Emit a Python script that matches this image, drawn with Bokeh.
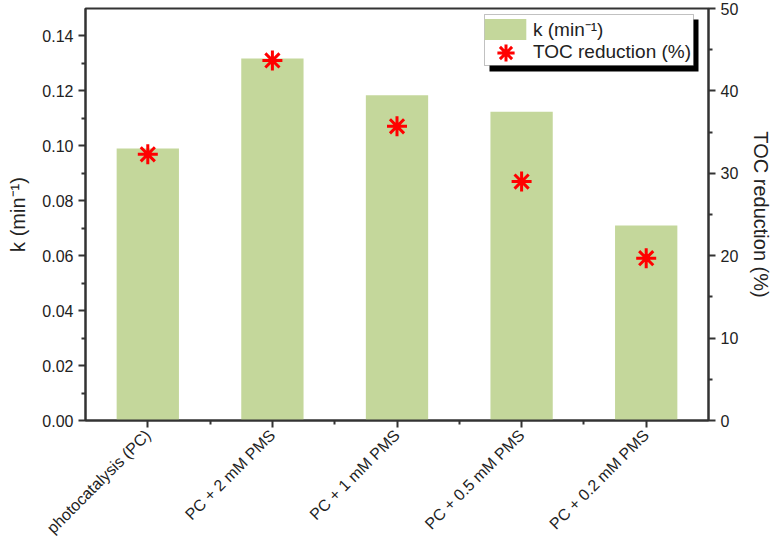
import math
from bokeh.plotting import figure
from bokeh.models import (Range1d, LinearAxis, FixedTicker, Legend, LegendItem,
                          BoxAnnotation, ColumnDataSource, NumeralTickFormatter)
from bokeh.embed import file_html
from bokeh.resources import INLINE

# ---- data ----
categories = ["photocatalysis (PC)", "PC + 2 mM PMS", "PC + 1 mM PMS",
              "PC + 0.5 mM PMS", "PC + 0.2 mM PMS"]
k_values = [0.0990, 0.1318, 0.1184, 0.1124, 0.0710]
toc_values = [32.3, 43.7, 35.7, 29.0, 19.7]
left_ticks = [0.00, 0.02, 0.04, 0.06, 0.08, 0.10, 0.12, 0.14]
left_minor = [0.01, 0.03, 0.05, 0.07, 0.09, 0.11, 0.13]
right_ticks = [0, 10, 20, 30, 40, 50]
right_minor = [5, 15, 25, 35, 45]

x_pos = list(range(1, len(categories) + 1))
x_mid = [x + 0.5 for x in x_pos[:-1]]

FONT = "Liberation Sans"
AXC = "#333333"
TXT = "#222222"

# ---- layout constants (canvas pixels) ----
FL, FT, FW, FH = 85, 8, 623, 412          # frame left/top/width/height
FB = FT + FH
LEG_L, LEG_T, LEG_R, LEG_B = 484, 14, 693, 65   # legend box
SH = 5                                           # shadow offset

p = figure(frame_width=FW, frame_height=FH, output_backend="svg",
           toolbar_location=None, x_range=Range1d(0.5, len(categories) + 0.5),
           y_range=Range1d(0, 0.15), min_border_left=FL, min_border_right=66,
           min_border_top=FT, min_border_bottom=123)
p.extra_y_ranges = {"toc": Range1d(0, 50)}
p.xgrid.visible = False
p.ygrid.visible = False
p.outline_line_color = AXC
p.outline_line_width = 2
p.background_fill_color = "white"
p.border_fill_color = "white"

src = ColumnDataSource(dict(x=x_pos, k=k_values, toc=toc_values))
bars = p.vbar(x="x", top="k", width=0.5, source=src, fill_color="#c4d79b",
              line_color=None)
stars = p.scatter(x="x", y="toc", source=src, marker="asterisk", size=20,
                  line_color="#ff0000", line_width=3, y_range_name="toc")

right_axis = LinearAxis(y_range_name="toc", axis_label="TOC reduction (%)",
                        ticker=FixedTicker(ticks=right_ticks, minor_ticks=right_minor))
p.add_layout(right_axis, "right")

p.yaxis[0].ticker = FixedTicker(ticks=left_ticks, minor_ticks=left_minor)
p.yaxis[0].formatter = NumeralTickFormatter(format="0.00")
p.yaxis[0].axis_label = "k (min\u207b\u00b9)"

p.xaxis[0].ticker = FixedTicker(ticks=x_pos, minor_ticks=x_mid)
p.xaxis[0].major_label_overrides = {x: c for x, c in zip(x_pos, categories)}
p.xaxis[0].major_label_orientation = math.pi / 4

for ax in [p.xaxis[0], p.yaxis[0], right_axis]:
    ax.axis_line_color = AXC
    ax.axis_line_width = 2
    ax.major_tick_line_color = AXC
    ax.minor_tick_line_color = AXC
    ax.major_tick_line_width = 2
    ax.minor_tick_line_width = 2
    ax.major_tick_in = 0
    ax.major_tick_out = 7
    ax.minor_tick_in = 0
    ax.minor_tick_out = 4
    ax.major_label_text_font = FONT
    ax.major_label_text_font_size = "16px"
    ax.major_label_text_color = TXT
    ax.axis_label_text_font = FONT
    ax.axis_label_text_font_size = "20px"
    ax.axis_label_text_font_style = "normal"
    ax.axis_label_text_color = TXT
right_axis.axis_label_standoff = 9
p.yaxis[0].axis_label_standoff = 10


def canvas_box(left, right, top, bottom, **kw):
    return BoxAnnotation(left=left, right=right, top=top, bottom=bottom,
                         left_units="canvas", right_units="canvas",
                         top_units="canvas", bottom_units="canvas", **kw)


# legend frame with drop shadow
p.add_layout(canvas_box(LEG_L + SH, LEG_R + SH, LEG_T + SH, LEG_B + SH + 1,
                        fill_color="black", fill_alpha=1, line_color=None))
p.add_layout(canvas_box(LEG_L, LEG_R, LEG_T, LEG_B, fill_color="white",
                        fill_alpha=1, line_color=AXC, line_width=1))

common = dict(border_line_color=None, background_fill_alpha=0,
              label_text_font=FONT, label_text_font_size="19px",
              label_text_color=TXT, padding=0, spacing=0, margin=0)

# row 1: bar swatch (legend draws it at 80% of the glyph box)
ROW1_T, ROW1_H, GW1 = 16, 26, 52
leg_k = Legend(items=[LegendItem(label="k (min\u207b\u00b9)", renderers=[bars])],
               location=(LEG_L - 5 - FL, FB - (ROW1_T + ROW1_H)),
               glyph_width=GW1, glyph_height=ROW1_H, label_height=20,
               label_standoff=2, **common)
p.add_layout(leg_k, "center")

# row 2: asterisk key (marker drawn at 40% of the glyph box)
ROW2_C, GW2 = 52, 43
leg_t = Legend(items=[LegendItem(label="TOC reduction (%)", renderers=[stars])],
               location=(LEG_L - FL, FB - (ROW2_C + GW2 / 2)),
               glyph_width=GW2, glyph_height=GW2, label_height=20,
               label_standoff=6, **common)
p.add_layout(leg_t, "center")

open("out.html", "w").write(file_html(p, INLINE))
